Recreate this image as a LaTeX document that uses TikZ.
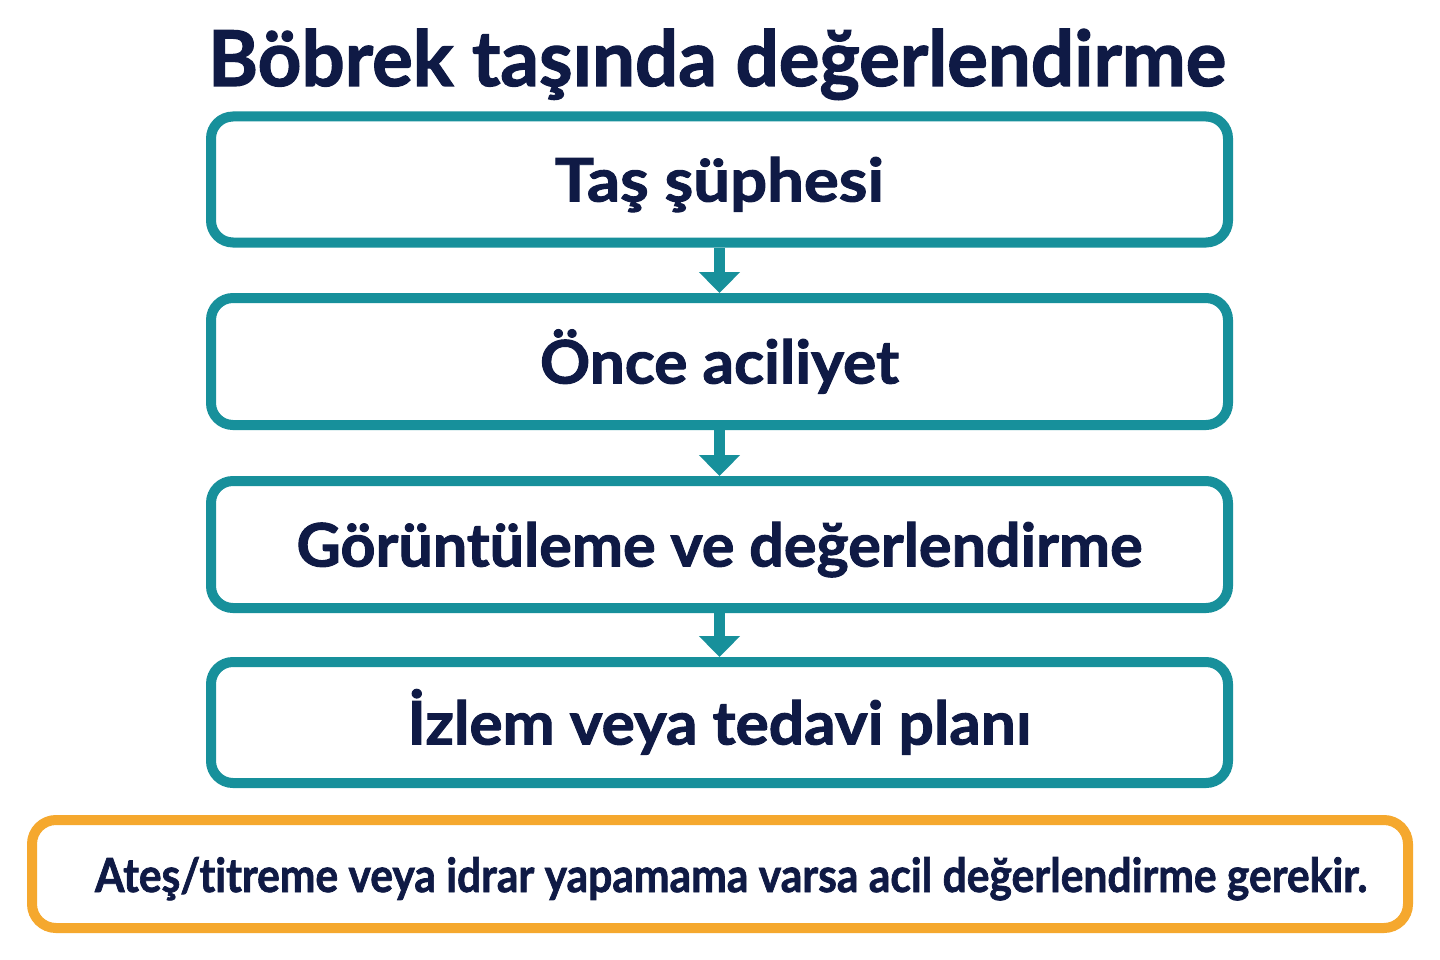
\documentclass[tikz,border=0pt]{standalone}
\usepackage{fontspec}
\setmainfont{Lato}[Ligatures=NoCommon, BoldFeatures={FakeBold=1.6}]
\usepackage{graphicx}
\usetikzlibrary{arrows.meta}
\definecolor{teal1}{HTML}{17909B}
\definecolor{navy}{HTML}{0F1A45}
\definecolor{orng}{HTML}{F5A82E}
\newlength\fitlen
\newcommand\fitto[2]{\settowidth\fitlen{#2}\scalebox{\fpeval{#1/\fitlen}}[1]{#2}}
\tikzset{
  stepbox/.style={draw=teal1, line width=10pt, rounded corners=22pt, fill=white,
    minimum width=1017pt, inner sep=0pt, text=navy,
    font=\bfseries\fontsize{60}{60}\selectfont, text height=44pt, text depth=0pt},
  warnbox/.style={draw=orng, line width=10pt, rounded corners=24pt, fill=white,
    minimum width=1376pt, minimum height=108pt, inner sep=0pt, text=navy,
    font=\bfseries\fontsize{47}{47}\selectfont, text height=36pt, text depth=0pt},
  flow/.style={draw=teal1, line width=11pt, -{Triangle[width=40pt,length=21pt]}}
}
\begin{document}
\begin{tikzpicture}[x=1pt,y=-1pt]
\fill[white] (0,0) rectangle (1440,960);
\useasboundingbox (0,0) rectangle (1440,960);
\node[anchor=base, text=navy, font=\bfseries\fontsize{77}{77}\selectfont, inner sep=0pt] (title) at (717,86) {\fitto{1018pt}{Böbrek taşında değerlendirme}};
\node[stepbox, minimum height=126pt] (b1) at (719.5,179.5) {\fitto{329pt}{Taş şüphesi}};
\node[stepbox, minimum height=127pt] (b2) at (719.5,361.5) {\fitto{359pt}{Önce aciliyet}};
\node[stepbox, minimum height=127pt] (b3) at (719.5,544.5) {\fitto{846pt}{Görüntüleme ve değerlendirme}};
\node[stepbox, minimum height=121pt] (b4) at (719.5,722.5) {\fitto{624pt}{İzlem veya tedavi planı}};
\node[warnbox] (w) at (720,874) {\hspace*{22pt}\fitto{1272pt}{Ateş/titreme veya idrar yapamama varsa acil değerlendirme gerekir.}};
\draw[flow] (b1.south) -- (b2.north);
\draw[flow] (b2.south) -- (b3.north);
\draw[flow] (b3.south) -- (b4.north);
\end{tikzpicture}
\end{document}
